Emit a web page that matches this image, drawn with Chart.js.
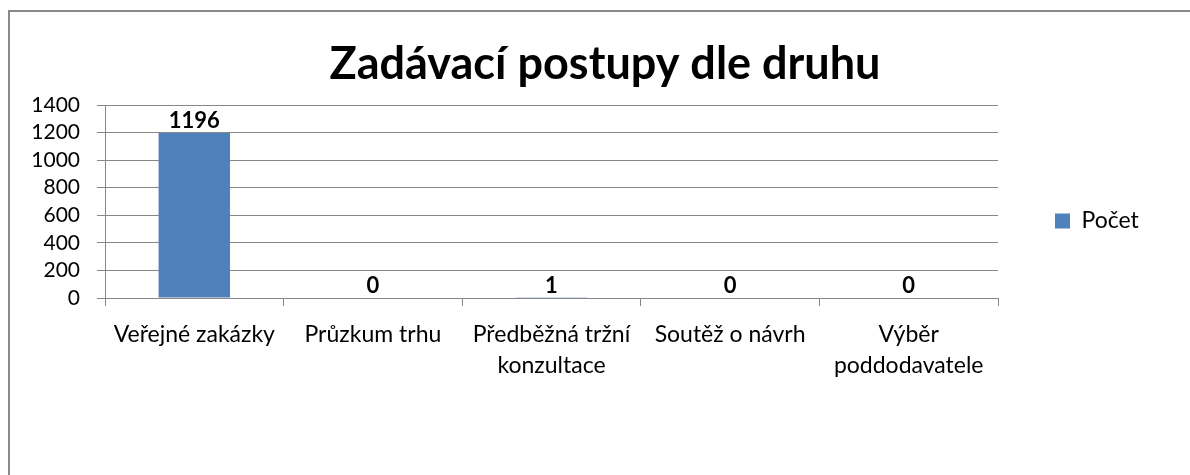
<!DOCTYPE html>
<html>
<head>
<meta charset="utf-8">
<script src="https://cdn.jsdelivr.net/npm/chart.js@4.4.1/dist/chart.umd.min.js"></script>
<style>
  html, body { margin: 0; padding: 0; background: #ffffff; overflow: hidden; }
  #wrap { position: relative; width: 1190px; height: 475px; overflow: hidden; }
  canvas { position: absolute; left: 0; top: 0; }
</style>
</head>
<body>
<div id="wrap">
  <canvas id="c" width="1190" height="475"></canvas>
</div>
<script>
// ---- data ----
const categories = ['Veřejné zakázky', 'Průzkum trhu', 'Předběžná tržní konzultace', 'Soutěž o návrh', 'Výběr poddodavatele'];
const tickLabels = [['Veřejné zakázky'], ['Průzkum trhu'], ['Předběžná tržní', 'konzultace'], ['Soutěž o návrh'], ['Výběr', 'poddodavatele']];
const seriesName = 'Počet';
const values = [1196, 0, 1, 0, 0];
const yTicks = [0, 200, 400, 600, 800, 1000, 1200, 1400];
const chartTitle = 'Zadávací postupy dle druhu';

const FONT = 'Lato, "Open Sans", sans-serif';
const GRID = '#878787';
const LEGEND_WIDTH = 192;

const valueLabels = {
  id: 'valueLabels',
  afterDatasetsDraw(chart) {
    const ctx = chart.ctx;
    const meta = chart.getDatasetMeta(0);
    ctx.save();
    ctx.font = 'bold 22px ' + FONT;
    ctx.fillStyle = '#000000';
    ctx.textAlign = 'center';
    ctx.textBaseline = 'alphabetic';
    meta.data.forEach((bar, i) => {
      ctx.fillText(String(values[i]), bar.x, bar.y - 5);
    });
    ctx.restore();
  }
};

const legendWidth = {
  id: 'legendWidth',
  beforeLayout(chart) {
    const lg = chart.legend;
    if (lg && !lg.__fixedWidth) {
      const orig = lg.fit.bind(lg);
      lg.fit = function () { orig(); this.width = LEGEND_WIDTH; };
      lg.__fixedWidth = true;
    }
  }
};

const outerFrame = {
  id: 'outerFrame',
  beforeDraw(chart) {
    const ctx = chart.ctx;
    ctx.save();
    ctx.strokeStyle = '#8a8a8a';
    ctx.lineWidth = 2;
    ctx.beginPath();
    ctx.moveTo(9, chart.height);
    ctx.lineTo(9, 11);
    ctx.lineTo(chart.width, 11);
    ctx.stroke();
    ctx.restore();
  }
};

new Chart(document.getElementById('c'), {
  type: 'bar',
  data: {
    labels: categories,
    datasets: [{
      label: seriesName,
      data: values,
      backgroundColor: '#4F81BD',
      borderWidth: 0,
      barPercentage: 0.4,
      categoryPercentage: 1.0
    }]
  },
  options: {
    responsive: false,
    devicePixelRatio: 1,
    animation: false,
    layout: { padding: { left: 20, right: 0, top: 54, bottom: 87 } },
    plugins: {
      title: {
        display: true,
        text: chartTitle,
        color: '#000000',
        font: { family: FONT, size: 45, weight: 'bold', lineHeight: '20px' },
        padding: { top: 0, bottom: 31 }
      },
      legend: {
        display: true,
        position: 'right',
        labels: {
          color: '#000000',
          font: { family: FONT, size: 23 },
          boxWidth: 15,
          boxHeight: 15,
          padding: 57
        }
      },
      tooltip: { enabled: false }
    },
    scales: {
      x: {
        afterFit(scale) { scale.height = 90; },
        grid: { display: true, drawOnChartArea: false, drawTicks: true, tickLength: 8, color: GRID, offset: true },
        border: { display: true, color: GRID, width: 1 },
        ticks: {
          color: '#000000',
          font: { family: FONT, size: 23, lineHeight: 1.35 },
          padding: 13,
          maxRotation: 0,
          autoSkip: false,
          callback: (v, i) => tickLabels[i]
        }
      },
      y: {
        min: yTicks[0],
        max: yTicks[yTicks.length - 1],
        afterFit(scale) { scale.width = 85; },
        afterBuildTicks(scale) { scale.ticks = yTicks.map(v => ({ value: v })); },
        grid: { display: true, drawTicks: true, tickLength: 8, color: GRID },
        border: { display: true, color: GRID, width: 1 },
        ticks: {
          color: '#000000',
          font: { family: FONT, size: 21 },
          padding: 17,
          autoSkip: false,
          callback: (v) => String(v)
        }
      }
    }
  },
  plugins: [valueLabels, legendWidth, outerFrame]
});
</script>
</body>
</html>
